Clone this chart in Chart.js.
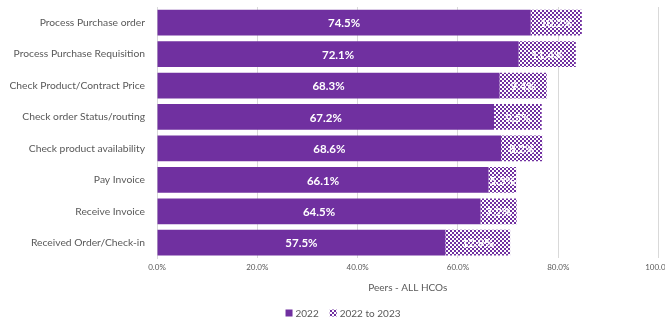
<!DOCTYPE html>
<html>
<head>
<meta charset="utf-8">
<script src="https://cdn.jsdelivr.net/npm/chart.js@4.4.0/dist/chart.umd.min.js"></script>
<style>
html,body{margin:0;padding:0;background:#fff;overflow:hidden;}
#wrap{width:665px;height:321px;position:relative;overflow:hidden;}
canvas{position:absolute;left:0;top:0;}
</style>
</head>
<body>
<div id="wrap"><canvas id="c" width="676" height="321"></canvas></div>
<script>
const categories = ["Process Purchase order","Process Purchase Requisition","Check Product/Contract Price","Check order Status/routing","Check product availability","Pay Invoice","Receive Invoice","Received Order/Check-in"];
const values2022 = [74.5,72.1,68.3,67.2,68.6,66.1,64.5,57.5];
const valuesChange = [10.2,11.4,9.4,9.5,8.2,5.5,7.2,12.9];
const xTicks = [0,20,40,60,80,100];
const seriesNames = ["2022","2022 to 2023"];
const axisTitle = "Peers - ALL HCOs";

const PURPLE = "#7030A0";
function makePattern(){
  const p = document.createElement('canvas');
  p.width = 4; p.height = 4;
  const g = p.getContext('2d');
  g.fillStyle = "#ffffff"; g.fillRect(0,0,4,4);
  g.fillStyle = PURPLE;
  g.fillRect(0,0,2,2); g.fillRect(2,2,2,2);
  return g.createPattern(p,'repeat');
}
const ctx = document.getElementById('c').getContext('2d');
const pattern = makePattern();
const FONT = "Lato, 'Open Sans', sans-serif";

const labelPlugin = {
  id:'barLabels',
  afterDatasetsDraw(chart){
    const c = chart.ctx;
    c.save();
    c.font = "bold 11.5px " + FONT;
    c.textAlign = 'center';
    c.textBaseline = 'middle';
    chart.data.datasets.forEach((ds,di)=>{
      const meta = chart.getDatasetMeta(di);
      meta.data.forEach((bar,i)=>{
        const v = ds.data[i];
        const x = (bar.x + bar.base)/2;
        c.fillStyle = '#ffffff';
        c.fillText(v.toFixed(1)+'%', x, bar.y+1);
      });
    });
    c.restore();
  }
};

const legendPlugin = {
  id:'customLegend',
  afterDraw(chart){
    const c = chart.ctx;
    c.save();
    c.font = "10px " + FONT;
    c.textBaseline = 'middle';
    const box = 7, gapBT = 3, gapItem = 11;
    const items = chart.data.datasets.map(ds=>({text:ds.label, fill:ds.backgroundColor, w: box+gapBT+c.measureText(ds.label).width}));
    const total = items.reduce((s,it)=>s+it.w,0) + gapItem*(items.length-1);
    const cx = 343, cy = 313;
    let x = cx - total/2;
    items.forEach(it=>{
      c.fillStyle = it.fill;
      c.fillRect(x, cy-box/2, box, box);
      c.fillStyle = '#595959';
      c.textAlign = 'left';
      c.fillText(it.text, x+box+gapBT, cy+0.5);
      x += it.w + gapItem;
    });
    c.restore();
  }
};

new Chart(ctx,{
  type:'bar',
  data:{
    labels:categories,
    datasets:[
      {label:seriesNames[0],data:values2022,backgroundColor:PURPLE,borderWidth:0,barPercentage:1,categoryPercentage:0.82},
      {label:seriesNames[1],data:valuesChange,backgroundColor:pattern,borderColor:PURPLE,borderWidth:0,barPercentage:1,categoryPercentage:0.82}
    ]
  },
  options:{
    indexAxis:'y',
    responsive:false,
    animation:false,
    layout:{padding:{top:7,right:5,left:0,bottom:16}},
    scales:{
      x:{
        stacked:true,min:0,max:100,
        afterBuildTicks(ax){ax.ticks = xTicks.map(v=>({value:v}));},
        ticks:{callback:v=>v.toFixed(1)+'%',color:'#595959',font:{size:8,family:FONT},padding:4,maxRotation:0},
        grid:{color:'#d9d9d9',drawTicks:false,lineWidth:1},
        border:{display:false},
        title:{display:true,text:axisTitle,color:'#595959',font:{size:10,family:FONT},padding:{top:6,bottom:11}}
      },
      y:{
        stacked:true,
        afterFit(ax){ax.width = 157; ax.paddingTop = 0; ax.paddingBottom = 0;},
        ticks:{color:'#595959',font:{size:10.3,family:FONT},padding:12},
        grid:{display:false,drawTicks:false},
        border:{display:true,color:'#d9d9d9'}
      }
    },
    plugins:{
      legend:{display:false},
      tooltip:{enabled:false}
    }
  },
  plugins:[labelPlugin, legendPlugin]
});
</script>
</body>
</html>
